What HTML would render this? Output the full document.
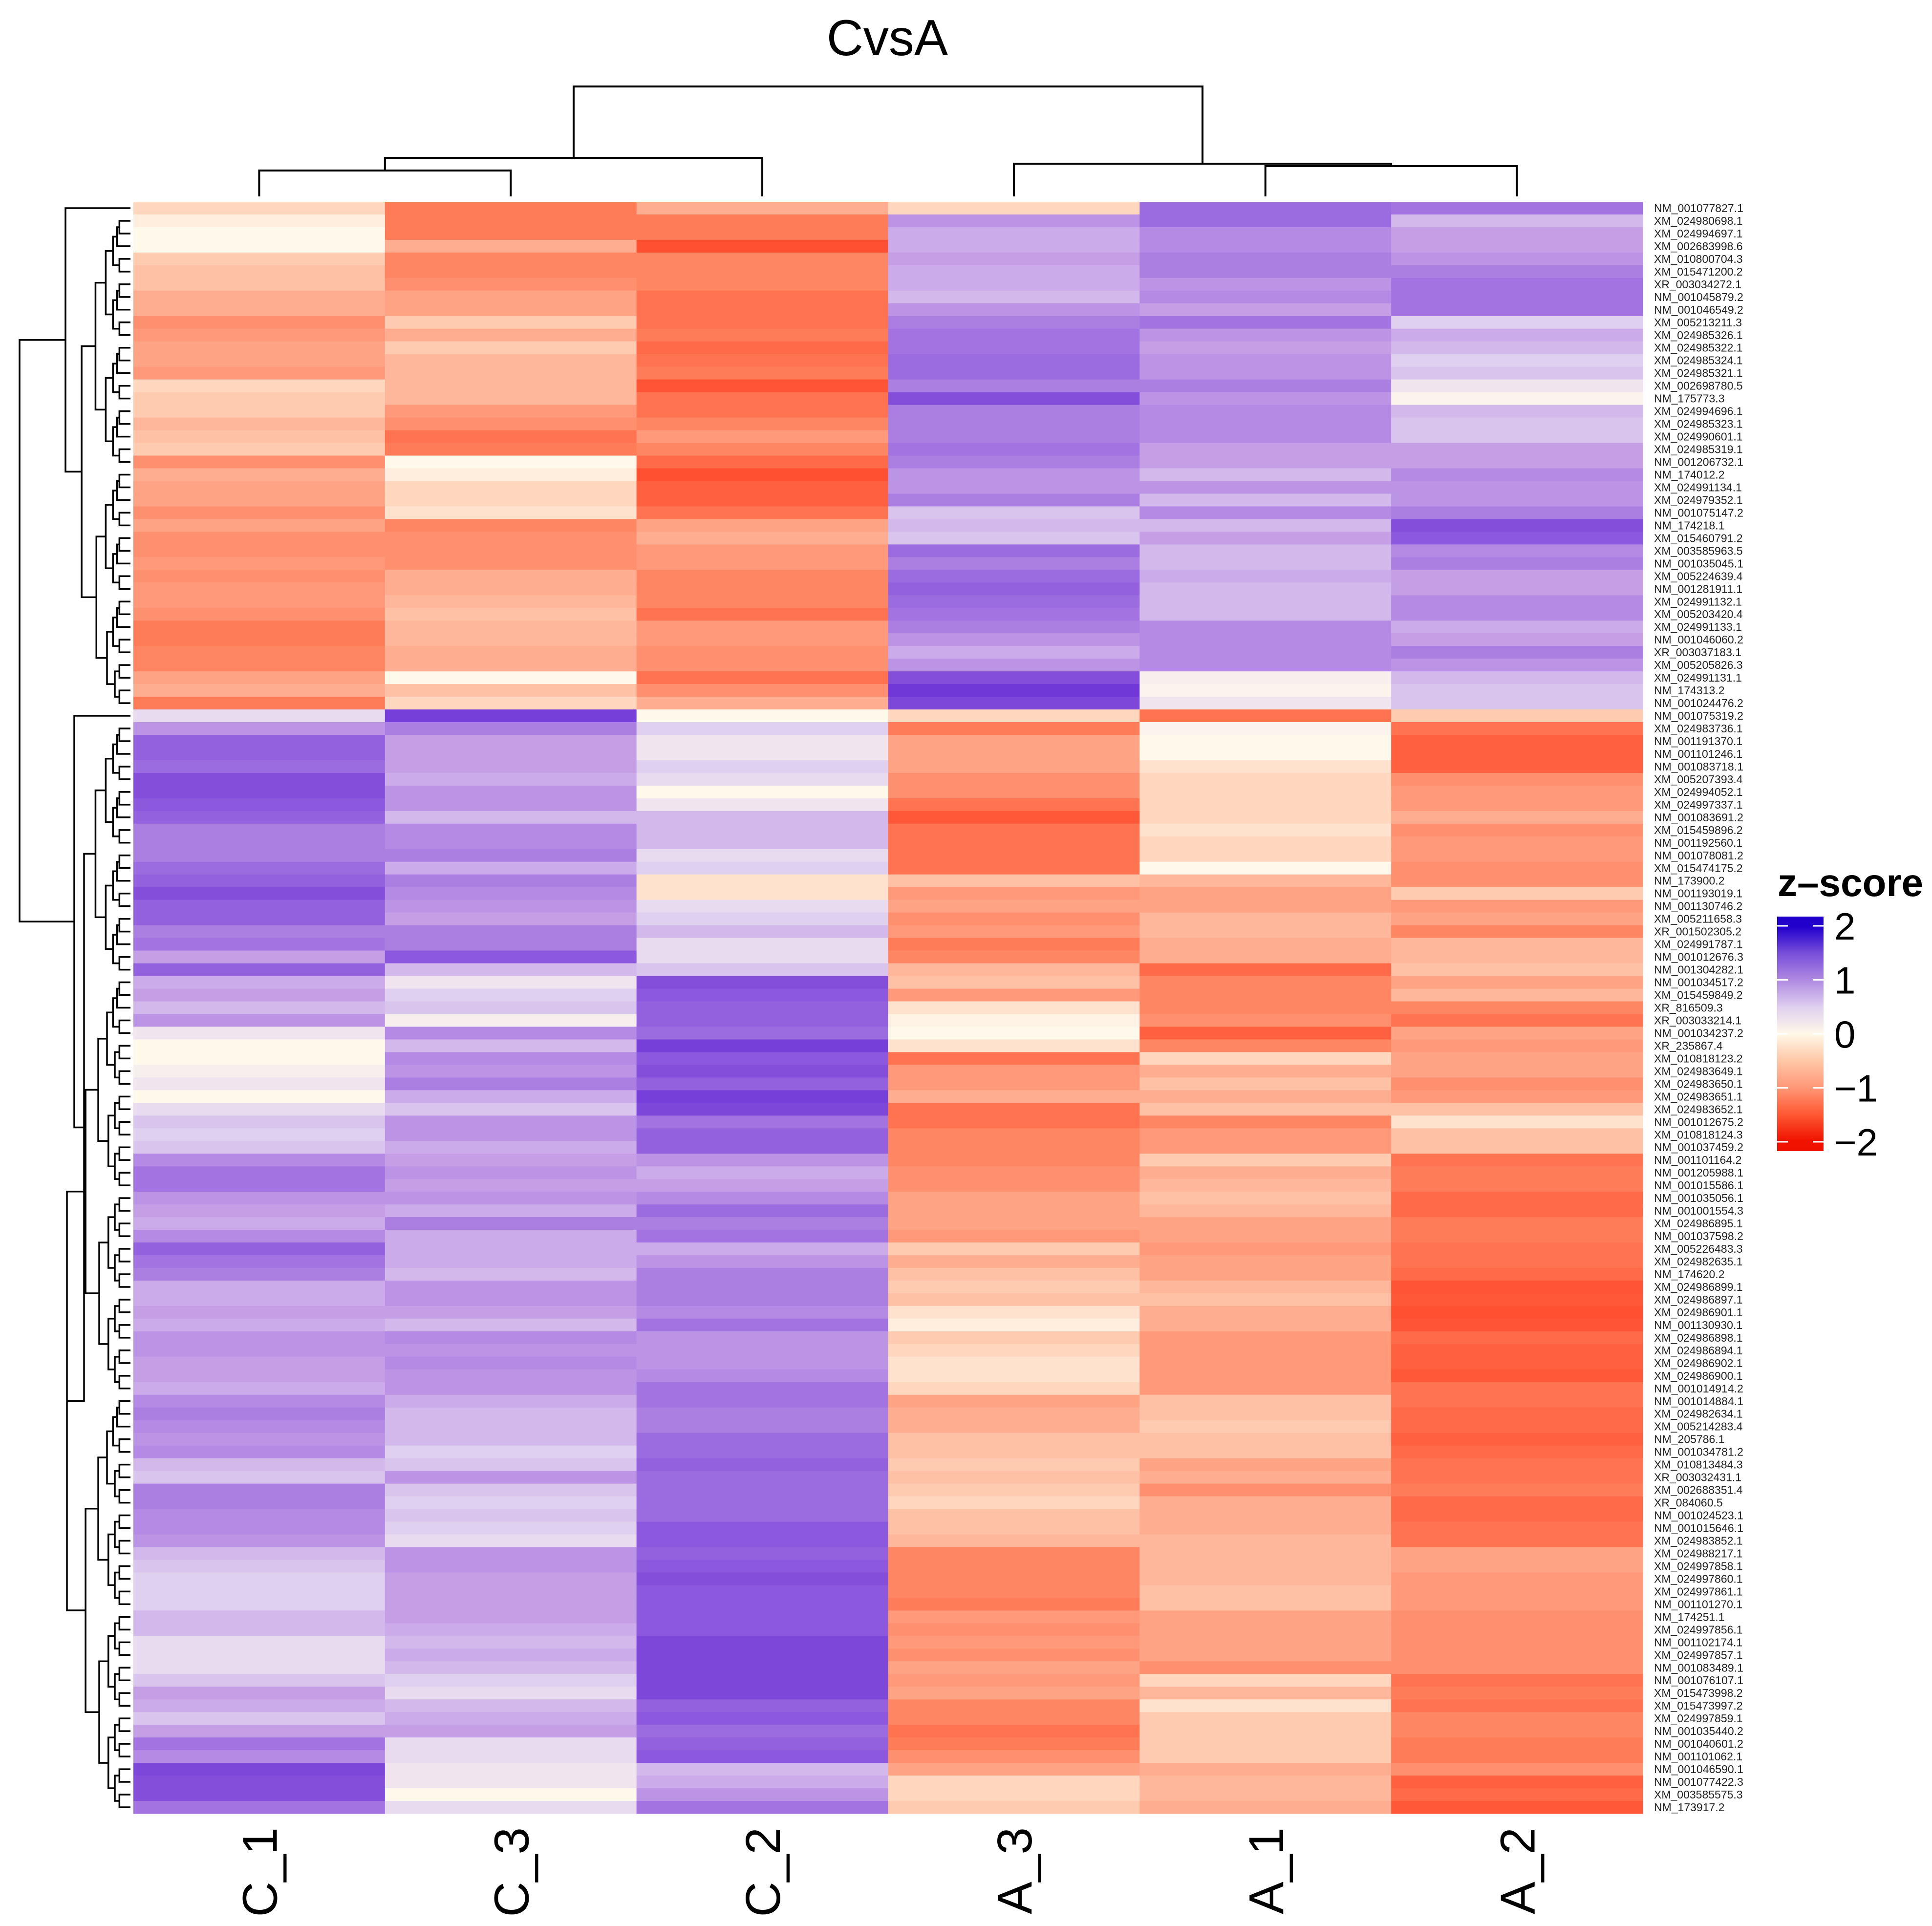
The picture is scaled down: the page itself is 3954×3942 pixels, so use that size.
<!DOCTYPE html>
<html><head><meta charset="utf-8"><style>
html,body{margin:0;padding:0;background:#fff;}
svg{display:block;font-family:"Liberation Sans",Arial,sans-serif;}
</style></head><body>
<svg id="chart" width="3954" height="3942" viewBox="0 0 3954 3942" xmlns="http://www.w3.org/2000/svg">
<rect x="0" y="0" width="3954" height="3942" fill="#fff"/>
<text x="1816" y="113" font-size="104" text-anchor="middle" fill="#000">CvsA</text>
<g id="cells"></g>
<g id="rowlabels"></g>
<g id="collabels"></g>
<g id="coldendro" stroke="#000" stroke-width="4" fill="none"></g>
<g id="rowdendro" stroke="#000" stroke-width="3.5" fill="none"></g>
<g id="legend">
<defs><linearGradient id="lg" x1="0" y1="0" x2="0" y2="1"></linearGradient></defs>
<text x="3638" y="1834" font-size="80" font-weight="bold" fill="#000">z–score</text>
<rect x="3637" y="1876" width="95" height="480" fill="url(#lg)"/>
<g id="legticks"></g>
</g>
</svg>
<script>
const columns = ["C_1","C_3","C_2","A_3","A_1","A_2"];
const rowNames = ["NM_001077827.1","XM_024980698.1","XM_024994697.1","XM_002683998.6","XM_010800704.3","XM_015471200.2","XR_003034272.1","NM_001045879.2","NM_001046549.2","XM_005213211.3","XM_024985326.1","XM_024985322.1","XM_024985324.1","XM_024985321.1","XM_002698780.5","NM_175773.3","XM_024994696.1","XM_024985323.1","XM_024990601.1","XM_024985319.1","NM_001206732.1","NM_174012.2","XM_024991134.1","XM_024979352.1","NM_001075147.2","NM_174218.1","XM_015460791.2","XM_003585963.5","NM_001035045.1","XM_005224639.4","NM_001281911.1","XM_024991132.1","XM_005203420.4","XM_024991133.1","NM_001046060.2","XR_003037183.1","XM_005205826.3","XM_024991131.1","NM_174313.2","NM_001024476.2","NM_001075319.2","XM_024983736.1","NM_001191370.1","NM_001101246.1","NM_001083718.1","XM_005207393.4","XM_024994052.1","XM_024997337.1","NM_001083691.2","XM_015459896.2","NM_001192560.1","NM_001078081.2","XM_015474175.2","NM_173900.2","NM_001193019.1","NM_001130746.2","XM_005211658.3","XR_001502305.2","XM_024991787.1","NM_001012676.3","NM_001304282.1","NM_001034517.2","XM_015459849.2","XR_816509.3","XR_003033214.1","NM_001034237.2","XR_235867.4","XM_010818123.2","XM_024983649.1","XM_024983650.1","XM_024983651.1","XM_024983652.1","NM_001012675.2","XM_010818124.3","NM_001037459.2","NM_001101164.2","NM_001205988.1","NM_001015586.1","NM_001035056.1","NM_001001554.3","XM_024986895.1","NM_001037598.2","XM_005226483.3","XM_024982635.1","NM_174620.2","XM_024986899.1","XM_024986897.1","XM_024986901.1","NM_001130930.1","XM_024986898.1","XM_024986894.1","XM_024986902.1","XM_024986900.1","NM_001014914.2","NM_001014884.1","XM_024982634.1","XM_005214283.4","NM_205786.1","NM_001034781.2","XM_010813484.3","XR_003032431.1","XM_002688351.4","XR_084060.5","NM_001024523.1","NM_001015646.1","XM_024983852.1","XM_024988217.1","XM_024997858.1","XM_024997860.1","XM_024997861.1","NM_001101270.1","NM_174251.1","XM_024997856.1","NM_001102174.1","XM_024997857.1","NM_001083489.1","NM_001076107.1","XM_015473998.2","XM_015473997.2","XM_024997859.1","NM_001035440.2","NM_001040601.2","NM_001101062.1","NM_001046590.1","NM_001077422.3","XM_003585575.3","NM_173917.2"];
const zC1 = [-0.3,-0.1,0.0,0.0,-0.4,-0.5,-0.5,-0.7,-0.7,-1.0,-0.9,-0.8,-0.8,-0.9,-0.3,-0.4,-0.4,-0.6,-0.5,-0.4,-1.0,-0.7,-0.8,-0.8,-1.0,-0.8,-1.0,-1.0,-0.9,-1.0,-0.9,-0.9,-1.0,-1.2,-1.2,-1.1,-1.1,-0.8,-0.7,-1.2,
0.3,0.9,1.4,1.4,1.3,1.6,1.6,1.5,1.4,1.1,1.1,1.1,1.3,1.4,1.6,1.4,1.4,1.1,1.2,0.8,1.4,0.7,0.8,0.6,0.9,0.2,0.0,0.0,0.1,0.2,0.0,0.3,0.5,0.4,0.5,1.0,1.2,1.2,0.9,0.8,0.7,1.0,1.4,1.2,1.1,0.7,0.7,0.8,0.7,0.9,0.9,0.8,0.8,0.7,1.0,1.1,1.0,0.9,1.0,0.6,0.5,1.1,1.1,1.0,1.0,0.9,0.6,0.5,0.4,0.4,0.4,0.6,0.6,0.3,0.3,0.3,0.5,0.8,0.7,0.5,0.8,1.2,1.0,1.7,1.6,1.6,1.2];
const zC3 = [-1.2,-1.2,-1.2,-0.7,-1.1,-1.1,-1.0,-0.8,-0.8,-0.4,-0.7,-0.4,-0.6,-0.6,-0.6,-0.6,-0.9,-1.0,-1.3,-1.2,0.0,-0.1,-0.3,-0.3,-0.2,-1.1,-1.0,-1.0,-1.0,-0.7,-0.7,-0.6,-0.5,-0.6,-0.6,-0.7,-0.7,0.0,-0.5,-0.3,
1.8,1.1,0.8,0.8,0.8,0.7,0.9,0.9,0.6,1.0,1.0,1.1,0.7,1.1,1.0,0.9,0.8,1.1,1.1,1.5,0.6,0.2,0.4,0.5,0.1,1.0,0.6,1.0,0.9,1.1,0.7,0.5,0.9,0.9,0.7,0.8,0.9,0.8,0.9,0.7,1.1,0.7,0.7,0.7,0.6,0.9,0.9,0.8,0.6,1.0,0.9,1.0,0.9,0.9,0.7,0.6,0.6,0.6,0.4,0.5,0.9,0.5,0.4,0.5,0.4,0.3,0.9,0.9,0.8,0.8,0.8,0.8,0.7,0.6,0.7,0.6,0.4,0.3,0.6,0.7,0.8,0.3,0.3,0.2,0.2,0.0,0.3];
const zC2 = [-0.7,-1.2,-1.2,-1.8,-1.1,-1.1,-1.1,-1.3,-1.3,-1.3,-1.2,-1.4,-1.3,-1.2,-1.7,-1.3,-1.3,-1.1,-0.9,-1.1,-1.4,-1.8,-1.5,-1.5,-1.3,-0.8,-0.7,-0.9,-0.9,-1.1,-1.1,-1.1,-1.3,-0.9,-0.9,-1.0,-1.0,-1.3,-1.0,-0.7,
0.0,0.4,0.2,0.2,0.4,0.3,0.0,0.2,0.6,0.6,0.6,0.3,0.4,-0.2,-0.2,0.3,0.4,0.6,0.3,0.3,0.5,1.6,1.5,1.4,1.4,1.3,1.8,1.5,1.6,1.4,1.8,1.7,1.2,1.4,1.4,0.9,0.7,0.8,1.0,1.3,1.1,1.2,0.7,0.9,1.1,1.1,1.1,1.0,1.2,0.9,0.9,0.9,1.0,1.2,1.2,1.1,1.1,1.3,1.3,1.4,1.3,1.3,1.3,1.3,1.5,1.5,1.4,1.5,1.6,1.5,1.5,1.5,1.5,1.7,1.7,1.7,1.7,1.7,1.4,1.5,1.3,1.4,1.5,0.6,0.7,0.9,1.2];
const zA3 = [-0.3,0.9,0.7,0.7,0.8,0.7,0.7,0.6,0.9,1.1,1.2,1.2,1.3,1.3,1.1,1.6,1.1,1.1,1.1,1.2,1.1,0.9,0.9,1.1,0.5,0.6,0.5,1.3,1.1,1.3,1.4,1.3,1.2,1.1,0.9,0.7,0.9,1.6,1.9,1.7,
-0.3,-1.2,-0.8,-0.8,-0.8,-1.0,-1.0,-1.3,-1.6,-1.3,-1.3,-1.3,-1.3,-0.5,-0.9,-0.8,-1.0,-0.9,-1.2,-1.1,-0.6,-0.5,-0.9,-0.2,-0.05,0.0,-0.2,-1.3,-0.9,-0.9,-0.7,-1.3,-1.3,-1.1,-1.1,-1.1,-1.0,-1.0,-0.8,-0.8,-0.8,-0.9,-0.4,-0.7,-0.5,-0.4,-0.5,-0.2,-0.1,-0.4,-0.3,-0.2,-0.2,-0.3,-0.8,-0.7,-0.7,-0.5,-0.5,-0.4,-0.5,-0.4,-0.3,-0.5,-0.5,-0.6,-1.1,-1.1,-1.1,-1.1,-1.2,-0.9,-1.0,-0.9,-1.0,-0.8,-0.9,-0.8,-1.1,-1.1,-1.3,-1.2,-1.0,-0.8,-0.3,-0.3,-0.4];
const zA1 = [1.3,1.3,1.0,1.0,1.1,1.1,0.9,1.0,0.8,1.2,0.9,0.8,0.9,0.9,1.1,0.9,1.0,1.0,1.0,0.8,0.8,0.6,0.9,0.6,1.0,0.6,0.8,0.6,0.6,0.7,0.6,0.6,0.6,1.0,1.0,1.0,1.0,0.1,0.05,0.2,
-1.3,0.05,0.0,0.0,-0.2,-0.3,-0.3,-0.3,-0.3,-0.2,-0.3,-0.3,0.0,-0.6,-0.8,-0.8,-0.6,-0.6,-0.7,-0.7,-1.4,-1.1,-1.1,-1.1,-1.0,-1.5,-1.1,-0.3,-0.7,-0.5,-0.7,-0.5,-1.1,-0.9,-0.9,-0.4,-0.7,-0.6,-0.5,-0.6,-0.8,-0.8,-0.9,-0.8,-0.8,-0.6,-0.5,-0.7,-0.7,-0.9,-0.9,-0.9,-0.9,-0.9,-0.5,-0.5,-0.4,-0.5,-0.5,-0.8,-0.7,-1.0,-0.7,-0.7,-0.7,-0.6,-0.6,-0.6,-0.6,-0.5,-0.5,-0.8,-0.8,-0.8,-0.8,-1.0,-0.3,-0.6,-0.2,-0.4,-0.4,-0.4,-0.4,-0.7,-0.6,-0.6,-0.7];
const zA2 = [1.2,0.6,0.8,0.8,0.9,1.1,1.2,1.2,1.2,0.4,0.7,0.6,0.4,0.5,0.2,0.05,0.6,0.5,0.5,0.8,0.8,1.0,0.9,0.9,1.1,1.6,1.5,1.0,1.1,0.8,0.8,1.0,1.0,0.7,0.8,1.1,0.9,0.6,0.5,0.5,
-0.4,-1.3,-1.5,-1.5,-1.5,-1.0,-0.9,-0.9,-0.7,-1.0,-0.9,-0.9,-1.0,-1.0,-0.4,-0.9,-0.8,-1.1,-0.6,-0.6,-0.5,-0.8,-0.6,-1.1,-1.3,-0.8,-0.9,-0.8,-0.8,-1.0,-0.9,-0.5,-0.2,-0.5,-0.5,-1.3,-1.2,-1.2,-1.4,-1.4,-1.2,-1.2,-1.3,-1.3,-1.4,-1.7,-1.6,-1.8,-1.7,-1.4,-1.5,-1.5,-1.6,-1.3,-1.3,-1.4,-1.4,-1.5,-1.4,-1.3,-1.3,-1.2,-1.4,-1.4,-1.3,-1.3,-0.8,-0.8,-0.9,-0.9,-0.9,-1.0,-1.0,-1.0,-1.0,-1.0,-1.3,-1.2,-1.3,-1.1,-1.1,-1.2,-1.2,-1.0,-1.5,-1.4,-1.6];
const legendTicks = [2,1,0,-1,-2];
const series = [zC1,zC3,zC2,zA3,zA1,zA2];

const NS = "http://www.w3.org/2000/svg";
const X0 = 273, X1 = 3362, Y0 = 413, Y1 = 3712;
const nR = rowNames.length, nC = columns.length;
const cw = (X1 - X0) / nC, rh = (Y1 - Y0) / nR;
const colX = i => X0 + i * cw;
const rowY = r => Y0 + r * rh;
const stops = [[-2,[255,72,42]],[-1.6,[255,88,56]],[-1.2,[255,124,88]],[-0.8,[255,163,133]],[-0.4,[255,203,176]],[0,[255,249,236]],[0.4,[224,208,240]],[0.8,[196,159,230]],[1.2,[163,116,225]],[1.6,[132,78,219]],[2,[104,48,214]]];
const legStops = [[-2.2,[238,17,0]],[-2,[240,20,0]],[-1.5,[255,90,53]],[-1,[255,152,120]],[-0.5,[255,200,168]],[0,[255,248,232]],[0.5,[224,208,240]],[1,[176,138,226]],[1.5,[122,80,218]],[2,[34,0,204]],[2.2,[30,0,200]]];
function interp(st, v){
  if (v === undefined || isNaN(v)) v = 0;
  v = Math.max(st[0][0], Math.min(st[st.length-1][0], v));
  for (let i = 0; i < st.length - 1; i++) {
    const a = st[i][0], ca = st[i][1], b = st[i+1][0], cb = st[i+1][1];
    if (v <= b) { const t = (v - a) / (b - a);
      return "rgb(" + ca.map((c, k) => Math.round(c + (cb[k] - c) * t)).join(",") + ")"; }
  }
  return "rgb(0,0,0)";
}
const color = v => interp(stops, v);
function mk(tag, attrs, parent){ const e = document.createElementNS(NS, tag); for (const k in attrs) e.setAttribute(k, attrs[k]); parent.appendChild(e); return e; }

const cells = document.getElementById("cells");
for (let c = 0; c < nC; c++) for (let r = 0; r < nR; r++) {
  const el = mk("rect", {x: colX(c).toFixed(2), y: rowY(r).toFixed(2), width: (cw + 0.5).toFixed(2), height: (rh + 0.5).toFixed(2), fill: color(series[c][r])}, cells);
  
  
}
const rl = document.getElementById("rowlabels");
rowNames.forEach((n, r) => {
  const t = mk("text", {x: 3385, y: (rowY(r) + rh / 2 + 8).toFixed(1), "font-size": 23, fill: "#222"}, rl);
  t.textContent = n;
  
  
});
const cl = document.getElementById("collabels");
columns.forEach((n, c) => {
  const cx = colX(c) + cw / 2 + 36;
  const t = mk("text", {x: 0, y: 0, "font-size": 100, "text-anchor": "end", fill: "#000", transform: "translate(" + cx.toFixed(1) + ",3740) rotate(-90)"}, cl);
  t.textContent = n;
  
  
});
const cd = document.getElementById("coldendro");
const cc = i => colX(i) + cw / 2;
function uline(xa, ya, xb, yb, yTop, g){ mk("path", {d: "M" + xa + "," + ya + "V" + yTop + "H" + xb + "V" + yb}, g); }
const cb = 402;
uline(cc(0), cb, cc(1), cb, 349, cd);
uline((cc(0)+cc(1))/2, 349, cc(2), cb, 323, cd);
uline(cc(4), cb, cc(5), cb, 340, cd);
uline(cc(3), cb, (cc(4)+cc(5))/2, 340, 335, cd);
uline(((cc(0)+cc(1))/2 + cc(2))/2, 323, (cc(3) + (cc(4)+cc(5))/2)/2, 335, 177, cd);
const rd = document.getElementById("rowdendro");
const LEAF = 267;
const rc = r => rowY(r) + rh / 2;
function vline(x, ya, yb, xa, xb){ mk("path", {d: "M" + xa + "," + ya + "H" + x + "V" + yb + "H" + xb}, rd); }
function build(lo, hi){
  if (lo === hi) return [rc(lo), LEAF];
  const mid = Math.floor((lo + hi) / 2);
  const a = build(lo, mid), b = build(mid + 1, hi);
  const x = Math.min(LEAF - 16 * Math.sqrt(hi - lo + 1), a[1] - 4, b[1] - 4);
  vline(x, a[0], b[0], a[1], b[1]);
  return [(a[0] + b[0]) / 2, x];
}
function join(a, b, x){ vline(x, a[0], b[0], a[1], b[1]); return [(a[0] + b[0]) / 2, x]; }
const topClust = join([rc(0), LEAF], build(1, 39), 134);
const botClust = join([rc(40), LEAF], join(build(41, 60), build(61, 126), 172), 152);
join(topClust, botClust, 40);
const lg = document.getElementById("lg");
for (let i = 0; i <= 44; i++) { const v = 2.2 - i * 0.1;
  mk("stop", {offset: (i / 44).toFixed(3), "stop-color": interp(legStops, v)}, lg); }
const lt = document.getElementById("legticks");
const ly = v => 2116 - v * 110.5;
legendTicks.forEach(v => {
  const y = ly(v);
  mk("rect", {x: 3637, y: y - 1.5, width: 22, height: 3, fill: "#fff"}, lt);
  mk("rect", {x: 3710, y: y - 1.5, width: 22, height: 3, fill: "#fff"}, lt);
  const t = mk("text", {x: 3754, y: y + 28, "font-size": 78, fill: "#000"}, lt);
  t.textContent = v < 0 ? "\u2212" + Math.abs(v) : String(v);
  
  
});
</script>
</body></html>
